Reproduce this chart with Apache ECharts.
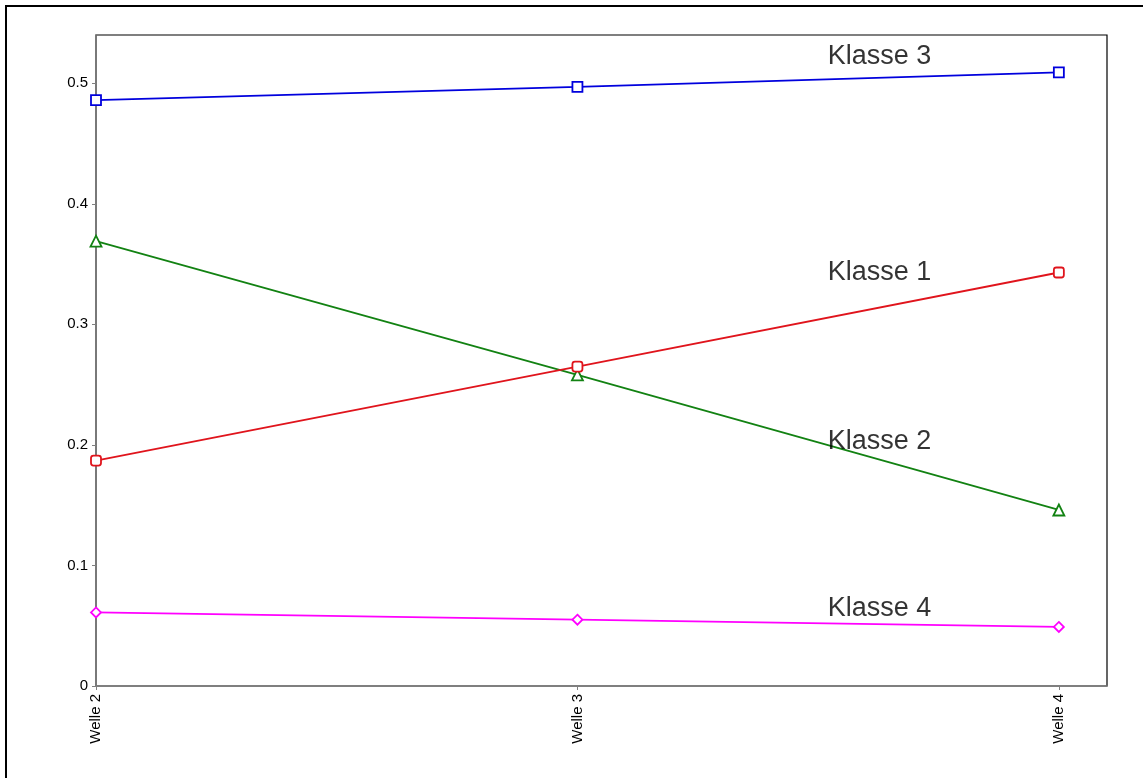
<!DOCTYPE html>
<html>
<head>
<meta charset="utf-8">
<script src="https://cdn.jsdelivr.net/npm/echarts@6/dist/echarts.min.js"></script>
<style>
html, body { margin: 0; padding: 0; background: #fff; }
#chart { width: 1143px; height: 778px; }
</style>
</head>
<body>
<div id="chart"></div>
<script>
// Wellen (x-Achse)
var wellen = [2, 3, 4];
// Anteile je Klasse
var klasse1 = [0.187, 0.265, 0.343];
var klasse2 = [0.369, 0.258, 0.146];
var klasse3 = [0.486, 0.497, 0.509];
var klasse4 = [0.061, 0.055, 0.049];
// Achsenstriche y
var yTicks = [0, 0.1, 0.2, 0.3, 0.4, 0.5];
// Beschriftungen im Diagramm
var labelNames = ['Klasse 3', 'Klasse 1', 'Klasse 2', 'Klasse 4'];
var labelX = [3.52, 3.52, 3.52, 3.52];
var labelY = [0.522, 0.343, 0.203, 0.064];

var FONT = 'Liberation Sans, Arial, sans-serif';

var pairs = function(vals) {
	var out = [];
	for (var i = 0; i < wellen.length; i++) {
		out.push([wellen[i], vals[i]]);
	}
	return out;
};

var lineSeries = function(name, vals, color, symbol) {
	return {
		name: name,
		type: 'line',
		data: pairs(vals),
		symbol: symbol,
		symbolSize: symbol === 'triangle' ? 11 : 10,
		showAllSymbol: true,
		clip: false,
		lineStyle: { color: color, width: 1.8 },
		itemStyle: { color: '#fff', borderColor: color, borderWidth: 1.8 },
		emphasis: { disabled: true },
		z: 3
	};
};

var labelData = [];
for (var i = 0; i < labelNames.length; i++) {
	labelData.push({ name: labelNames[i], value: [labelX[i], labelY[i]] });
}

var chart = echarts.init(document.getElementById('chart'));
var option = {
	animation: false,
	backgroundColor: '#fff',
	textStyle: { fontFamily: FONT },
	graphic: [{
		type: 'rect',
		shape: { x: 6, y: 6, width: 1200, height: 900 },
		style: { fill: 'none', stroke: '#000', lineWidth: 2 },
		silent: true
	}],
	grid: {
		left: 96, top: 35, right: 36, bottom: 92,
		show: true,
		borderColor: '#000',
		borderWidth: 1.2
	},
	xAxis: {
		type: 'value',
		min: 2,
		max: 4.1,
		splitLine: { show: false },
		axisLine: { lineStyle: { color: '#808080', width: 1.5 } },
		axisTick: { length: 4, customValues: wellen, lineStyle: { color: '#808080' } },
		axisLabel: {
			customValues: wellen,
			rotate: 90,
			color: '#000',
			fontFamily: FONT,
			fontSize: 15,
			margin: 8,
			formatter: function(v) {
				return 'Welle ' + v;
			}
		}
	},
	yAxis: {
		type: 'value',
		min: 0,
		max: 0.54,
		splitLine: { show: false },
		axisLine: { lineStyle: { color: '#808080', width: 1.5 } },
		axisTick: { length: 4, customValues: yTicks, lineStyle: { color: '#808080' } },
		axisLabel: {
			customValues: yTicks,
			color: '#000',
			fontFamily: FONT,
			fontSize: 15,
			margin: 8,
			formatter: function(v) {
				return String(Math.round(v * 10) / 10);
			}
		}
	},
	series: [
		lineSeries('Klasse 3', klasse3, '#0000dd', 'rect'),
		lineSeries('Klasse 2', klasse2, '#128212', 'triangle'),
		lineSeries('Klasse 1', klasse1, '#e0141c', 'roundRect'),
		lineSeries('Klasse 4', klasse4, '#ff00ff', 'diamond'),
		{
			name: 'labels',
			type: 'scatter',
			data: labelData,
			symbolSize: 0,
			silent: true,
			label: {
				show: true,
				position: 'right',
				distance: 0,
				color: '#000',
				textBorderWidth: 0,
				fontFamily: FONT,
				fontSize: 27,
				formatter: '{b}'
			},
			z: 5
		}
	]
};
chart.setOption(option);
</script>
</body>
</html>
